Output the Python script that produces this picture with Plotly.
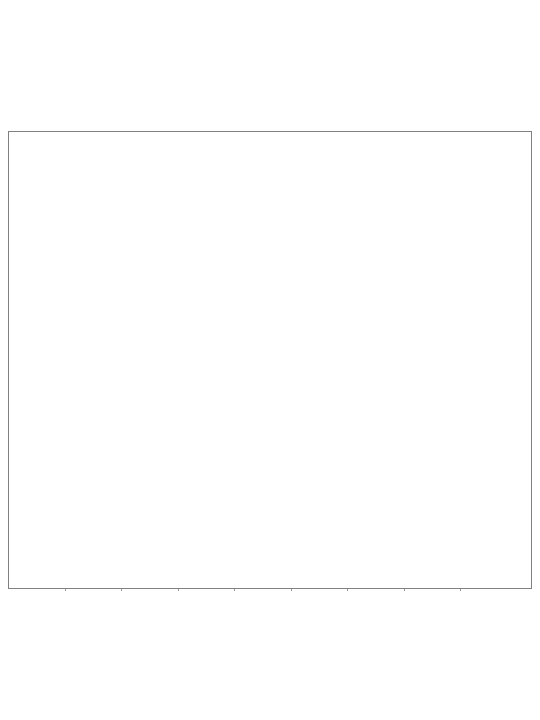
import plotly.graph_objects as go

# the reference shows an empty, framed plot area
x_ticks = [1, 2, 3, 4, 5, 6, 7, 8]
y_ticks = [0, 1, 2, 3, 4, 5, 6, 7, 8]
x_values = []
y_values = []

fig = go.Figure()
fig.add_trace(go.Scatter(x=x_values, y=y_values, mode="lines",
                         line=dict(color="white"), showlegend=False))

fig.update_xaxes(range=[0, 9.25], tickvals=x_ticks, ticks="outside", ticklen=2,
                 tickcolor="#999999", showgrid=False, zeroline=False,
                 showline=True, linecolor="#808080", linewidth=1, mirror=True,
                 tickfont=dict(color="white", size=10), automargin=False)
fig.update_yaxes(range=[-0.2, 8.1], tickvals=y_ticks, ticks="", showgrid=False,
                 zeroline=False, showline=True, linecolor="#808080", linewidth=1,
                 mirror=True, tickfont=dict(color="white", size=10), automargin=False,
                 ticklabelposition="inside")

# page body adds 8px around the figure
fig.update_layout(width=532, height=712, plot_bgcolor="white", paper_bgcolor="white",
                  margin=dict(l=1, r=9, t=124, b=132), showlegend=False)

fig.write_html("out.html")
